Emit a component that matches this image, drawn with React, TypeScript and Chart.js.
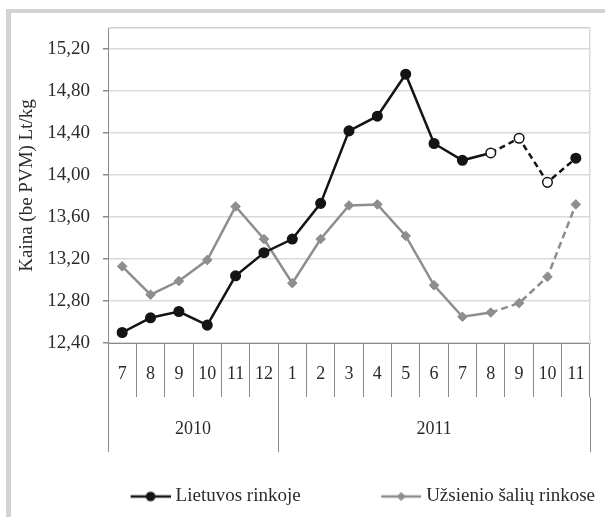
import React, { useEffect, useRef } from 'react';
import { Chart, registerables } from 'chart.js';

Chart.register(...registerables);

const months = ['7', '8', '9', '10', '11', '12', '1', '2', '3', '4', '5', '6', '7', '8', '9', '10', '11'];
const years = ['2010', '2011'];
const monthsPerYear = [6, 11];
const seriesNames = ['Lietuvos rinkoje', 'Užsienio šalių rinkose'];
const lietuvos = [12.5, 12.64, 12.7, 12.57, 13.04, 13.26, 13.39, 13.73, 14.42, 14.56, 14.96, 14.3, 14.14, 14.21, 14.35, 13.93, 14.16];
const uzsienio = [13.13, 12.86, 12.99, 13.19, 13.7, 13.39, 12.97, 13.39, 13.71, 13.72, 13.42, 12.95, 12.65, 12.69, 12.78, 13.03, 13.72];
const openPoints = [13, 14, 15];
const dashFrom = 13;
const yMin = 12.4;
const yMax = 15.4;
const yStep = 0.4;
const yTitle = 'Kaina (be PVM) Lt/kg';

const FONT = 'Liberation Serif';
const TXT = '#2b2b2b';
const BLACK = '#141414';
const GRAY = '#8e8e8e';

function legendImage(color: string, kind: 'circle' | 'diamond') {
  const c = document.createElement('canvas');
  c.width = 115;
  c.height = 14;
  const g = c.getContext('2d')!;
  g.strokeStyle = color;
  g.lineWidth = 2.5;
  g.beginPath();
  g.moveTo(75, 7);
  g.lineTo(115, 7);
  g.stroke();
  g.fillStyle = color;
  g.beginPath();
  if (kind === 'circle') {
    g.arc(95, 7, 4.8, 0, Math.PI * 2);
  } else {
    g.moveTo(95, 2.5);
    g.lineTo(99.5, 7);
    g.lineTo(95, 11.5);
    g.lineTo(90.5, 7);
    g.closePath();
  }
  g.fill();
  return c;
}

export default function App() {
  const ref = useRef<HTMLCanvasElement | null>(null);

  useEffect(() => {
    if (!ref.current) return;
    const bounds: number[] = [-0.5];
    const centres: number[] = [];
    let acc = -0.5;
    monthsPerYear.forEach((n) => {
      centres.push(acc + n / 2);
      acc += n;
      bounds.push(acc);
    });
    const yearTicks = [...bounds, ...centres].sort((a, b) => a - b);
    const isBound = (v: number) => bounds.some((b) => Math.abs(b - v) < 1e-6);
    const yearLabel = (v: number) => {
      const i = centres.findIndex((c) => Math.abs(c - v) < 1e-6);
      return i >= 0 ? years[i] : '';
    };
    const isTop = (v: number) => Math.abs(v - yMax) < 1e-6;
    const yTickValues: number[] = [];
    for (let k = 0; yMin + k * yStep <= yMax + 1e-9; k++) {
      yTickValues.push(Math.round((yMin + k * yStep) * 100) / 100);
    }
    if (!yTickValues.some(isTop)) yTickValues.push(yMax);

    const imgs = [legendImage(BLACK, 'circle'), legendImage(GRAY, 'diamond')];

    const chart = new Chart(ref.current, {
      type: 'line',
      data: {
        labels: months,
        datasets: [
          {
            label: seriesNames[0],
            data: lietuvos,
            borderColor: BLACK,
            borderWidth: 2.5,
            pointStyle: 'circle',
            pointRadius: 4.8,
            pointBorderWidth: 1.5,
            pointBorderColor: BLACK,
            pointBackgroundColor: (ctx: any) => (openPoints.includes(ctx.dataIndex) ? '#ffffff' : BLACK),
            segment: {
              borderDash: (ctx: any) => (ctx.p0DataIndex >= dashFrom ? [6, 4] : undefined),
            },
            xAxisID: 'x',
            yAxisID: 'y',
          },
          {
            label: seriesNames[1],
            data: uzsienio,
            borderColor: GRAY,
            borderWidth: 2.5,
            pointStyle: 'rectRot',
            pointRadius: 4.8,
            pointBorderWidth: 1,
            pointBorderColor: GRAY,
            pointBackgroundColor: GRAY,
            segment: {
              borderDash: (ctx: any) => (ctx.p0DataIndex >= dashFrom ? [7, 4] : undefined),
            },
            xAxisID: 'x',
            yAxisID: 'y',
          },
        ],
      },
      options: {
        animation: false,
        responsive: false,
        maintainAspectRatio: false,
        layout: { padding: { left: 14, right: 0, top: 28, bottom: 1 } },
        plugins: {
          tooltip: { enabled: false },
          legend: {
            position: 'bottom',
            align: 'end',
            labels: {
              usePointStyle: true,
              pointStyleWidth: 106,
              padding: 10,
              color: TXT,
              font: { family: FONT, size: 19 },
              generateLabels: () =>
                seriesNames.map((t, i) => ({
                  text: t,
                  pointStyle: imgs[i] as any,
                  fillStyle: 'rgba(0,0,0,0)',
                  strokeStyle: 'rgba(0,0,0,0)',
                  lineWidth: 0,
                  hidden: false,
                  datasetIndex: i,
                  fontColor: TXT,
                })),
            },
          },
        },
        scales: {
          x: {
            type: 'category',
            position: 'bottom',
            offset: true,
            grid: {
              offset: true,
              drawOnChartArea: false,
              drawTicks: true,
              tickLength: 54,
              tickColor: '#8a8a8a',
              tickWidth: 1,
            },
            border: { display: true, color: '#8a8a8a', width: 1 },
            ticks: {
              autoSkip: false,
              maxRotation: 0,
              minRotation: 0,
              padding: -34,
              color: TXT,
              font: { family: FONT, size: 18 },
            },
            afterFit: (s: any) => {
              s.height = 54;
            },
          },
          x2: {
            type: 'linear',
            position: 'bottom',
            min: -0.5,
            max: months.length - 0.5,
            afterBuildTicks: (s: any) => {
              s.ticks = yearTicks.map((v) => ({ value: v }));
            },
            grid: {
              drawOnChartArea: false,
              drawTicks: true,
              tickLength: 55,
              tickWidth: 1,
              tickColor: (ctx: any) => (ctx.tick && isBound(ctx.tick.value) ? '#8a8a8a' : 'rgba(0,0,0,0)'),
            },
            border: { display: false },
            ticks: {
              autoSkip: false,
              maxRotation: 0,
              minRotation: 0,
              padding: -34,
              color: TXT,
              font: { family: FONT, size: 18 },
              callback: (v: any) => yearLabel(Number(v)),
            },
            afterFit: (s: any) => {
              s.height = 80;
            },
          },
          y: {
            type: 'linear',
            position: 'left',
            min: yMin,
            max: yMax,
            afterBuildTicks: (s: any) => {
              s.ticks = yTickValues.map((v) => ({ value: v }));
            },
            ticks: {
              autoSkip: false,
              padding: 13,
              color: TXT,
              font: { family: FONT, size: 19 },
              callback: (v: any) => (isTop(Number(v)) ? '' : Number(v).toFixed(2).replace('.', ',')),
            },
            grid: {
              color: (ctx: any) => (ctx.tick && isTop(ctx.tick.value) ? '#cfcfcf' : '#d9d9d9'),
              lineWidth: 1.5,
              tickLength: 5,
              tickColor: (ctx: any) => (ctx.tick && isTop(ctx.tick.value) ? 'rgba(0,0,0,0)' : '#8a8a8a'),
            },
            border: { display: true, color: '#8a8a8a', width: 1 },
            title: {
              display: true,
              text: yTitle,
              color: TXT,
              font: { family: FONT, size: 19 },
              padding: { top: 2, bottom: 4 },
            },
            afterFit: (s: any) => {
              s.width = 94;
            },
          },
          yR: {
            type: 'linear',
            position: 'right',
            grid: { display: false },
            ticks: { display: false },
            border: { display: true, color: '#d9d9d9', width: 1.5 },
            afterFit: (s: any) => {
              s.width = 15;
            },
          },
        },
      },
    } as any);
    return () => chart.destroy();
  }, []);

  return (
    <div style={{ position: 'absolute', left: 0, top: 0, width: 605, height: 517, background: '#ffffff', overflow: 'hidden' }}>
      <div
        style={{
          position: 'absolute',
          left: 6,
          top: 9,
          width: 605,
          height: 517,
          borderLeft: '5px solid #d3d3d3',
          borderTop: '4px solid #d3d3d3',
          boxSizing: 'border-box',
        }}
      />
      <canvas ref={ref} width={605} height={517} style={{ position: 'absolute', left: 0, top: 0, width: 605, height: 517 }} />
    </div>
  );
}
